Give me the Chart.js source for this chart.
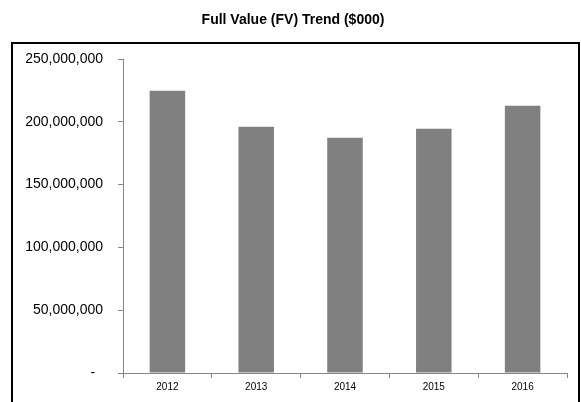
<!DOCTYPE html>
<html>
<head>
<meta charset="utf-8">
<script src="https://cdn.jsdelivr.net/npm/chart.js@4/dist/chart.umd.min.js"></script>
<style>
  html, body { margin: 0; padding: 0; background: #fff; }
  #wrap { position: relative; width: 581px; height: 402px; }
</style>
</head>
<body>
<div id="wrap"><canvas id="fv_chart" width="581" height="402"></canvas></div>
<script>
    "use strict";

    var years = ["2012", "2013", "2014", "2015", "2016"];
    var fullValues = [224700000, 196000000, 187300000, 194400000, 212800000];
    var yTicks = [0, 50000000, 100000000, 150000000, 200000000, 250000000];

    // outer frame + title, like the Excel chart area
    var framePlugin = {
        id: 'frame',
        beforeDraw: function(chart) {
            var ctx = chart.ctx;
            ctx.save();
            ctx.fillStyle = '#000';
            ctx.font = 'bold 14px "Liberation Sans", Arial, sans-serif';
            ctx.textAlign = 'center';
            ctx.textBaseline = 'middle';
            ctx.fillText('Full Value (FV) Trend ($000)', 293, 20);
            ctx.strokeStyle = '#000';
            ctx.lineWidth = 2;
            ctx.strokeRect(12, 43, 567, 400);
            ctx.restore();
        }
    };

    var fvChart = function(){
        const fv_chart = document.getElementById("fv_chart").getContext('2d');
        new Chart(fv_chart, {
            type: 'bar',
            data: {
                labels: years,
                datasets: [{
                    data: fullValues,
                    backgroundColor: '#808080',
                    borderWidth: 0,
                    barPercentage: 0.4,
                    categoryPercentage: 1
                }]
            },
            options: {
                responsive: false,
                animation: false,
                layout: { padding: { left: 12, right: 14, top: 59, bottom: 6 } },
                plugins: {
                    legend: { display: false },
                    tooltip: { enabled: false }
                },
                scales: {
                    x: {
                        grid: { offset: true, drawOnChartArea: false, drawTicks: true, tickLength: 5, color: '#868686' },
                        border: { color: '#868686' },
                        ticks: { color: '#000', padding: 3, font: { family: '"Liberation Sans", Arial, sans-serif', size: 10 } }
                    },
                    y: {
                        min: 0,
                        max: 250000000,
                        afterBuildTicks: function(scale) {
                            scale.ticks = yTicks.map(function(v){ return { value: v }; });
                        },
                        afterFit: function(scale) { scale.width = 111; },
                        grid: { drawOnChartArea: false, drawTicks: true, tickLength: 5, color: '#868686' },
                        border: { color: '#868686' },
                        ticks: {
                            color: '#000',
                            padding: 15,
                            font: { family: '"Liberation Sans", Arial, sans-serif', size: 14 },
                            callback: function(v) {
                                if (v === 0) return '-  ';
                                return v.toLocaleString('en-US');
                            }
                        }
                    }
                }
            },
            plugins: [framePlugin]
        });
    };

    fvChart();
</script>
</body>
</html>
